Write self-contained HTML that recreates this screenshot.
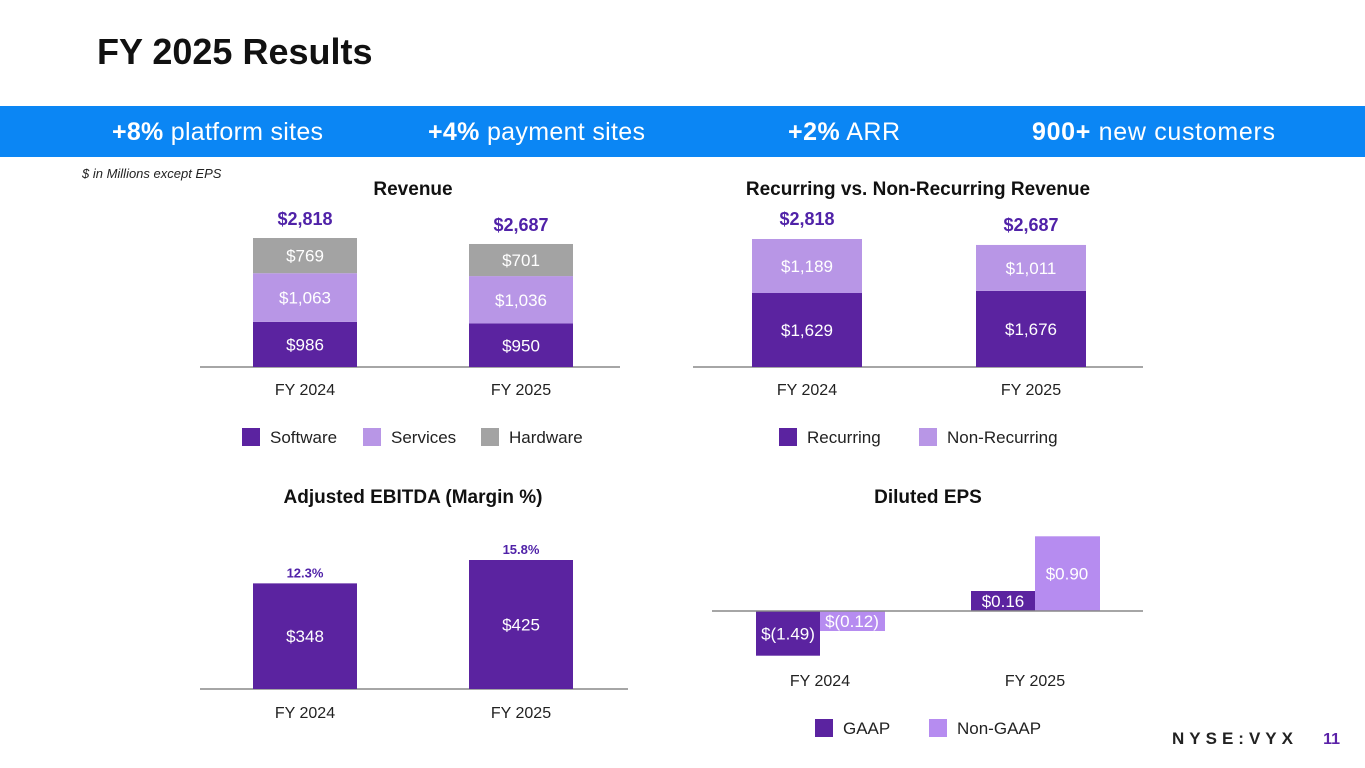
<!DOCTYPE html>
<html><head><meta charset="utf-8"><style>
body{margin:0;width:1365px;height:768px;overflow:hidden;background:#fff;font-family:"Liberation Sans",sans-serif}
svg{position:absolute;left:0;top:0}
</style></head><body>
<svg id="s" width="1365" height="768" xmlns="http://www.w3.org/2000/svg">
<text x="97" y="64" font-size="36" font-weight="bold" fill="#111">FY 2025 Results</text>
<rect x="0" y="106" width="1365" height="51" fill="#0b86f4"/>
<g font-size="25" fill="#fff">
<text x="112" y="140" textLength="211"><tspan font-weight="bold">+8%</tspan> platform sites</text>
<text x="428" y="140" textLength="217"><tspan font-weight="bold">+4%</tspan> payment sites</text>
<text x="788" y="140" textLength="112"><tspan font-weight="bold">+2%</tspan> ARR</text>
<text x="1032" y="140" textLength="243"><tspan font-weight="bold">900+</tspan> new customers</text>
</g>
<text x="82" y="178" font-size="13" font-style="italic" fill="#222">$ in Millions except EPS</text>
<text x="1298" y="744" font-size="17" font-weight="bold" fill="#222" text-anchor="end" letter-spacing="5">NYSE:VYX</text>
<text x="1340" y="744" font-size="16" font-weight="bold" fill="#5b22a8" text-anchor="end">11</text>
</svg>
<script>
const revCats=["FY 2024","FY 2025"];
const revSoftware=[986,950];
const revServices=[1063,1036];
const revHardware=[769,701];
const revTotals=[2818,2687];
const recRecurring=[1629,1676];
const recNonRecurring=[1189,1011];
const recTotals=[2818,2687];
const ebitdaVals=[348,425];
const ebitdaMargins=["12.3%","15.8%"];
const epsGaap=[-1.49,0.16];
const epsNonGaap=[-0.12,0.90];

const NS="http://www.w3.org/2000/svg";
const svg=document.getElementById('s');
const DARK="#5b23a0",LAV="#b896e6",GREY="#a3a3a3",LAV2="#b68cf0",TOT="#5022a8";
function el(tag,attrs,parent){const e=document.createElementNS(NS,tag);for(const k in attrs)e.setAttribute(k,attrs[k]);(parent||svg).appendChild(e);return e;}
function txt(x,y,s,size,fill,weight){const t=el('text',{x:x,y:y,'font-size':size,fill:fill,'text-anchor':'middle','font-weight':weight||'normal'});t.textContent=s;return t;}
function money(v){return '$'+v.toLocaleString('en-US');}
function legend(items,y){items.forEach(it=>{const r=el('rect',{x:it.x,y:y-9,width:18,height:18,fill:it.c});const t=el('text',{x:it.x+28,y:y+6,'font-size':17,fill:'#222'});t.textContent=it.l;});}
function axis(x1,x2,y,name){const l=el('line',{x1:x1,x2:x2,y1:y,y2:y,stroke:'#888','stroke-width':1.5});}

// Revenue
{const base=367,sc=129/2818,xs=[253,469],w=104;
const t=txt(413,195,"Revenue",19,'#111','bold');
axis(200,620,base,'revenue-axis');
revCats.forEach((c,i)=>{let y=base;[[revSoftware[i],DARK,'software'],[revServices[i],LAV,'services'],[revHardware[i],GREY,'hardware']].forEach(([v,col,k])=>{const h=v*sc;y-=h;const r=el('rect',{x:xs[i],y:y,width:w,height:h,fill:col});const lt=txt(xs[i]+w/2,y+h/2+6,money(v),17,'#fff');});
const tt=txt(xs[i]+w/2,y-13,money(revTotals[i]),18,TOT,'bold');
const cl=txt(xs[i]+w/2,395,c,16,'#222');});
legend([{x:242,c:DARK,l:'Software',k:'software'},{x:363,c:LAV,l:'Services',k:'services'},{x:481,c:GREY,l:'Hardware',k:'hardware'}],437);}

// Recurring
{const base=367,sc=128/2818,xs=[752,976],w=110;
const t=txt(918,195,"Recurring vs. Non-Recurring Revenue",19,'#111','bold');
axis(693,1143,base,'recurring-axis');
revCats.forEach((c,i)=>{let y=base;[[recRecurring[i],DARK,'recurring'],[recNonRecurring[i],LAV,'non-recurring']].forEach(([v,col,k])=>{const h=v*sc;y-=h;const r=el('rect',{x:xs[i],y:y,width:w,height:h,fill:col});const lt=txt(xs[i]+w/2,y+h/2+6,money(v),17,'#fff');});
const tt=txt(xs[i]+w/2,y-14,money(recTotals[i]),18,TOT,'bold');
const cl=txt(xs[i]+w/2,395,c,16,'#222');});
legend([{x:779,c:DARK,l:'Recurring',k:'recurring'},{x:919,c:LAV,l:'Non-Recurring',k:'non-recurring'}],437);}

// EBITDA
{const base=689,sc=129/425,xs=[253,469],w=104;
const t=txt(413,503,"Adjusted EBITDA (Margin %)",19,'#111','bold');
axis(200,628,base,'ebitda-axis');
revCats.forEach((c,i)=>{const h=ebitdaVals[i]*sc,y=base-h;const r=el('rect',{x:xs[i],y:y,width:w,height:h,fill:DARK});
const lt=txt(xs[i]+w/2,y+h/2+6,money(ebitdaVals[i]),17,'#fff');
const mt=txt(xs[i]+w/2,y-6,ebitdaMargins[i],13,TOT,'bold');
const cl=txt(xs[i]+w/2,718,c,16,'#222');});}

// EPS
{const base=611,posSc=83,negSc=30,xs=[756,971],w=64;
const t=txt(928,503,"Diluted EPS",19,'#111','bold');
function fmt(v){return v<0?'$('+Math.abs(v).toFixed(2)+')':'$'+v.toFixed(2);}
revCats.forEach((c,i)=>{[[epsGaap[i],DARK,'gaap',0],[epsNonGaap[i],LAV2,'non-gaap',1]].forEach(([v,col,k,j])=>{let h=v>=0?v*posSc:-v*negSc;h=Math.max(h,20);const y=v>=0?base-h:base;const x=xs[i]+j*w;
const r=el('rect',{x:x,y:y,width:w+(j?1:0),height:h,fill:col});
const lt=txt(x+w/2,y+h/2+6,fmt(v),17,'#fff');});
const cl=txt(xs[i]+w,686,c,16,'#222');});
axis(712,1143,base,'eps-axis');
legend([{x:815,c:DARK,l:'GAAP',k:'gaap'},{x:929,c:LAV2,l:'Non-GAAP',k:'non-gaap'}],728);}
</script>
</body></html>
